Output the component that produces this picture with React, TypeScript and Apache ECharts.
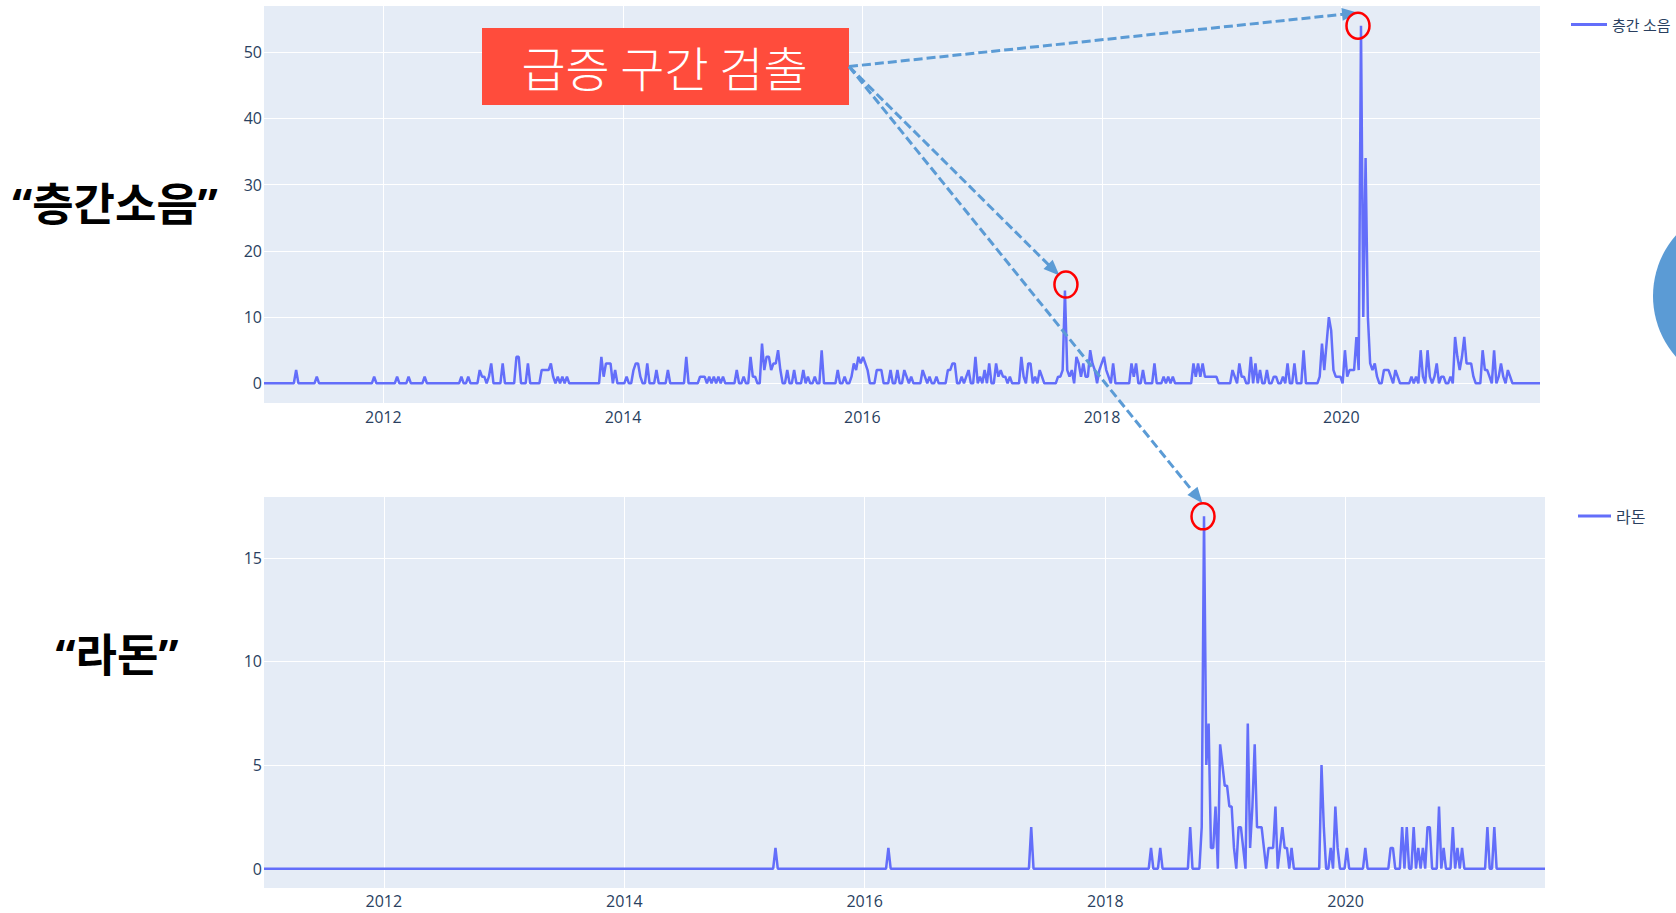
import React, { useEffect, useRef } from "react";
import * as echarts from "echarts";

// ---------- data (weekly, starting Sunday 2011-01-02) ----------
const weekStart = "2011-01-02";

const noiseName = "층간 소음";
const radonName = "라돈";

// 층간 소음 weekly values (557 weeks)
const noiseWeekly: number[] = [
  0,0,0,0,0,0,0,0,0,0, 0,0,0,0,2,0,0,0,0,0,
  0,0,0,1,0,0,0,0,0,0, 0,0,0,0,0,0,0,0,0,0,
  0,0,0,0,0,0,0,0,1,0, 0,0,0,0,0,0,0,0,1,0,
  0,0,0,1,0,0,0,0,0,0, 1,0,0,0,0,0,0,0,0,0,
  0,0,0,0,0,0,1,0,0,1, 0,0,0,0,2,1,1,0,1,3,
  0,0,0,0,3,0,0,0,0,0, 4,4,0,0,0,3,0,0,0,0,
  0,2,2,2,2,3,1,0,1,0, 1,0,1,0,0,0,0,0,0,0,
  0,0,0,0,0,0,0,4,1,3, 3,3,0,2,0,0,0,0,1,0,
  0,2,3,3,1,0,0,3,0,0, 0,2,0,0,0,0,2,0,0,0,
  0,0,0,0,4,0,0,0,0,0, 1,1,1,0,1,0,1,0,1,0,
  1,0,0,0,0,0,2,0,0,1, 0,0,4,1,1,0,0,6,2,4,
  4,2,3,3,5,2,0,0,2,0, 0,2,0,0,0,2,0,1,0,0,
  1,0,0,5,0,0,0,0,0,0, 2,0,0,1,0,0,1,3,2,4,
  3,4,3,2,0,0,0,2,2,2, 0,0,0,2,0,0,2,0,0,2,
  1,0,1,0,0,0,0,2,1,0, 1,0,0,1,0,0,0,0,2,2,
  3,3,0,0,1,0,1,2,0,0, 4,0,1,0,2,0,3,0,0,3,
  1,2,1,1,0,1,0,0,0,0, 4,1,0,3,3,0,1,0,2,1,
  0,0,0,0,0,0,1,1,2,14, 2,1,2,0,4,3,1,3,1,1,
  5,3,2,0,2,3,4,2,1,0, 3,0,0,0,0,0,0,0,3,1,
  3,0,0,2,0,0,0,0,3,0, 0,0,1,0,1,0,1,0,0,0,
  0,0,0,0,0,3,1,3,1,3, 1,1,1,1,1,1,0,0,0,0,
  0,0,2,1,0,3,1,1,0,0, 4,0,3,0,2,0,0,2,0,0,
  1,1,0,0,1,0,3,0,0,3, 0,0,0,5,0,0,0,0,0,0,
  1,6,2,6,10,8,2,1,1,1, 0,5,1,2,2,2,7,2,54,10,
  34,10,3,2,3,1,0,0,2,2, 2,1,0,2,1,0,0,0,0,0,
  1,0,1,0,5,1,0,5,1,0, 1,3,0,1,1,0,0,1,0,7,
  4,2,4,7,3,3,3,1,0,0, 0,5,2,2,1,0,5,0,1,3,
  1,0,2,1,0,0,0,0,0,0, 0,0,0,0,0,0,0,
];

// 라돈 weekly values (557 weeks)
const radonWeekly: number[] = [
  0,0,0,0,0,0,0,0,0,0, 0,0,0,0,0,0,0,0,0,0,
  0,0,0,0,0,0,0,0,0,0, 0,0,0,0,0,0,0,0,0,0,
  0,0,0,0,0,0,0,0,0,0, 0,0,0,0,0,0,0,0,0,0,
  0,0,0,0,0,0,0,0,0,0, 0,0,0,0,0,0,0,0,0,0,
  0,0,0,0,0,0,0,0,0,0, 0,0,0,0,0,0,0,0,0,0,
  0,0,0,0,0,0,0,0,0,0, 0,0,0,0,0,0,0,0,0,0,
  0,0,0,0,0,0,0,0,0,0, 0,0,0,0,0,0,0,0,0,0,
  0,0,0,0,0,0,0,0,0,0, 0,0,0,0,0,0,0,0,0,0,
  0,0,0,0,0,0,0,0,0,0, 0,0,0,0,0,0,0,0,0,0,
  0,0,0,0,0,0,0,0,0,0, 0,0,0,0,0,0,0,0,0,0,
  0,0,0,0,0,0,0,0,0,0, 0,0,0,0,0,0,0,0,0,0,
  0,0,1,0,0,0,0,0,0,0, 0,0,0,0,0,0,0,0,0,0,
  0,0,0,0,0,0,0,0,0,0, 0,0,0,0,0,0,0,0,0,0,
  0,0,0,0,0,0,0,0,0,0, 0,1,0,0,0,0,0,0,0,0,
  0,0,0,0,0,0,0,0,0,0, 0,0,0,0,0,0,0,0,0,0,
  0,0,0,0,0,0,0,0,0,0, 0,0,0,0,0,0,0,0,0,0,
  0,0,0,0,0,0,0,0,0,0, 0,0,0,2,0,0,0,0,0,0,
  0,0,0,0,0,0,0,0,0,0, 0,0,0,0,0,0,0,0,0,0,
  0,0,0,0,0,0,0,0,0,0, 0,0,0,0,0,0,0,0,0,0,
  0,0,0,0,0,1,0,0,0,1, 0,0,0,0,0,0,0,0,0,0,
  0,0,2,0,0,0,0,2,17,5, 7,1,1,3,0,6,5,4,4,3,
  3,1,0,2,2,1,0,7,1,3, 6,2,2,2,1,0,1,1,1,3,
  0,1,2,1,1,0,1,0,0,0, 0,0,0,0,0,0,0,0,0,5,
  2,0,0,1,0,3,1,0,0,0, 1,0,0,0,0,0,0,0,1,0,
  0,0,0,0,0,0,0,0,0,1, 1,0,0,0,2,0,2,0,0,2,
  0,1,0,1,0,2,2,0,0,0, 3,0,1,0,0,0,2,0,1,0,
  1,0,0,0,0,0,0,0,0,0, 0,2,0,0,2,0,0,0,0,0,
  0,0,0,0,0,0,0,0,0,0, 0,0,0,0,0,0,0,
];

const yearTickLabels = ["2012", "2014", "2016", "2018", "2020"];
const noiseYTicks = [0, 10, 20, 30, 40, 50];
const radonYTicks = [0, 5, 10, 15];

const calloutText = "급증 구간 검출";
const sideLabelNoise = "\u201C층간소음\u201D";
const sideLabelRadon = "\u201C라돈\u201D";

// ---------- styles ----------
const PLOT_BG = "#E5ECF6";
const LINE_COLOR = "#636EFA";
const TICK_COLOR = "#2a3f5f";
const ARROW_COLOR = "#5B9BD5";
const TICK_FONT = "'Open Sans', sans-serif";
const KR_FONT = "'Noto Sans CJK KR', 'Noto Sans', sans-serif";
const SIDE_FONT = "'Noto Sans', 'Noto Sans CJK KR', sans-serif";

const DAY = 86400000;

export default function App() {
  const ref = useRef<HTMLDivElement>(null);

  useEffect(() => {
    if (!ref.current) return;
    const chart = echarts.init(ref.current, undefined, { renderer: "svg" });
    const t0 = new Date(weekStart + "T00:00:00Z").getTime();
    const dates = noiseWeekly.map((_, i) => t0 + i * 7 * DAY);
    const noiseData = noiseWeekly.map((v, i) => [dates[i], v]);
    const radonData = radonWeekly.map((v, i) => [dates[i], v]);
    const yearTicks = yearTickLabels.map((y) => Date.UTC(Number(y), 0, 1));

    const xAxisBase = (gridIndex: number, margin: number) => ({
      type: "value",
      gridIndex,
      min: dates[0],
      max: dates[dates.length - 1],
      axisLine: { show: false },
      axisTick: { show: false, customValues: yearTicks },
      axisLabel: {
        customValues: yearTicks,
        formatter: (v: number) => String(new Date(v).getUTCFullYear()),
        color: TICK_COLOR,
        fontSize: 16,
        fontFamily: TICK_FONT,
        margin,
      },
      splitLine: { show: true, lineStyle: { color: "#ffffff", width: 1 } },
    });

    const yAxisBase = (gridIndex: number, min: number, max: number, ticks: number[]) => ({
      type: "value",
      gridIndex,
      min,
      max,
      axisLine: { show: false },
      axisTick: { show: false, customValues: ticks },
      axisLabel: {
        customValues: ticks,
        color: TICK_COLOR,
        fontSize: 16,
        fontFamily: TICK_FONT,
        margin: 2,
      },
      splitLine: { show: true, lineStyle: { color: "#ffffff", width: 1 } },
    });

    const option: any = {
      animation: false,
      backgroundColor: "#ffffff",
      grid: [
        { left: 264, top: 6, width: 1276, height: 397, show: true, backgroundColor: PLOT_BG, borderWidth: 0 },
        { left: 264, top: 497, width: 1281, height: 391, show: true, backgroundColor: PLOT_BG, borderWidth: 0 },
      ],
      xAxis: [xAxisBase(0, 6), xAxisBase(1, 5)],
      yAxis: [yAxisBase(0, -2.97, 56.97, noiseYTicks), yAxisBase(1, -0.935, 17.935, radonYTicks)],
      legend: [
        {
          data: [noiseName],
          left: 1571,
          top: 17,
          padding: 0,
          icon: "rect",
          itemWidth: 36,
          itemHeight: 3,
          textStyle: { fontSize: 15, color: TICK_COLOR, fontFamily: KR_FONT },
        },
        {
          data: [radonName],
          left: 1578,
          top: 508,
          padding: 0,
          icon: "rect",
          itemWidth: 33,
          itemHeight: 3,
          textStyle: { fontSize: 16, color: TICK_COLOR, fontFamily: KR_FONT },
        },
      ],
      series: [
        {
          type: "line",
          name: noiseName,
          xAxisIndex: 0,
          yAxisIndex: 0,
          data: noiseData,
          showSymbol: false,
          symbol: "none",
          lineStyle: { color: LINE_COLOR, width: 2.5 },
          itemStyle: { color: LINE_COLOR },
        },
        {
          type: "line",
          name: radonName,
          xAxisIndex: 1,
          yAxisIndex: 1,
          data: radonData,
          showSymbol: false,
          symbol: "none",
          lineStyle: { color: LINE_COLOR, width: 2.5 },
          itemStyle: { color: LINE_COLOR },
        },
      ],
    };
    chart.setOption(option);

    // ---------- annotations placed from data through the axes ----------
    const argmax = (arr: number[], from: number, to: number) => {
      let bi = from;
      for (let i = from; i < to; i++) if (arr[i] > arr[bi]) bi = i;
      return bi;
    };
    const iNoiseMax = argmax(noiseWeekly, 0, noiseWeekly.length);
    const iNoise2 = argmax(noiseWeekly, 0, 400);
    const iRadonMax = argmax(radonWeekly, 0, radonWeekly.length);

    const pNoiseMax = chart.convertToPixel({ xAxisIndex: 0, yAxisIndex: 0 } as any, noiseData[iNoiseMax]) as number[];
    const pNoise2 = chart.convertToPixel({ xAxisIndex: 0, yAxisIndex: 0 } as any, noiseData[iNoise2]) as number[];
    const pRadon = chart.convertToPixel({ xAxisIndex: 1, yAxisIndex: 1 } as any, radonData[iRadonMax]) as number[];

    const box = { x: 482, y: 28, width: 367, height: 77 };
    const start = [box.x + box.width, 66.5];

    const cA = [pNoiseMax[0] - 3, pNoiseMax[1]];
    const cB = [pNoise2[0] + 1, pNoise2[1] - 6];
    const cC = [pRadon[0] - 1, pRadon[1]];
    const RX = 11.5;
    const RY = 13;

    const tipA = [cA[0], cA[1] - RY];
    const tipB = [cB[0] - 6.5, cB[1] - 9];
    const tipC = [cC[0] - 0.5, cC[1] - RY];

    const arrow = (tip: number[], from: number[], len: number, halfW: number) => {
      const dx = tip[0] - from[0];
      const dy = tip[1] - from[1];
      const d = Math.hypot(dx, dy);
      const ux = dx / d;
      const uy = dy / d;
      const bx = tip[0] - ux * len;
      const by = tip[1] - uy * len;
      return [
        {
          type: "line",
          z: 100,
          shape: { x1: from[0], y1: from[1], x2: bx + ux * 2, y2: by + uy * 2 },
          style: { stroke: ARROW_COLOR, lineWidth: 3, lineDash: [9, 4] },
        },
        {
          type: "polygon",
          z: 101,
          shape: {
            points: [
              [tip[0], tip[1]],
              [bx - uy * halfW, by + ux * halfW],
              [bx + uy * halfW, by - ux * halfW],
            ],
          },
          style: { fill: ARROW_COLOR },
        },
      ];
    };

    const ellipse = (c: number[]) => ({
      type: "ellipse",
      z: 102,
      shape: { cx: c[0], cy: c[1], rx: RX, ry: RY },
      style: { fill: "none", stroke: "#ff0000", lineWidth: 2.5 },
    });

    chart.setOption({
      graphic: [
        { type: "circle", z: 90, shape: { cx: 1745, cy: 296, r: 92 }, style: { fill: ARROW_COLOR } },
        {
          type: "rect",
          z: 95,
          shape: { ...box },
          style: { fill: "#FF4C3C" },
        },
        {
          type: "text",
          z: 96,
          x: box.x + box.width / 2 - 1,
          y: box.y + box.height / 2 - 1,
          style: {
            text: calloutText,
            fill: "#ffffff",
            fontSize: 48,
            fontWeight: 300,
            fontFamily: KR_FONT,
            align: "center",
            verticalAlign: "middle",
          },
        },
        ...arrow(tipA, start, 16, 6.5),
        ...arrow(tipB, start, 16, 6.5),
        ...arrow(tipC, start, 16, 6.5),
        ellipse(cA),
        ellipse(cB),
        ellipse(cC),
        {
          type: "text",
          z: 96,
          x: 115,
          y: 203,
          style: {
            text: sideLabelNoise,
            fill: "#000000",
            fontSize: 45,
            fontWeight: "bold",
            fontFamily: SIDE_FONT,
            align: "center",
            verticalAlign: "middle",
          },
        },
        {
          type: "text",
          z: 96,
          x: 117,
          y: 654,
          style: {
            text: sideLabelRadon,
            fill: "#000000",
            fontSize: 45,
            fontWeight: "bold",
            fontFamily: SIDE_FONT,
            align: "center",
            verticalAlign: "middle",
          },
        },
      ],
    });

    return () => chart.dispose();
  }, []);

  return (
    <div
      ref={ref}
      style={{ position: "fixed", left: 0, top: 0, width: 1676, height: 913, background: "#ffffff" }}
    />
  );
}
